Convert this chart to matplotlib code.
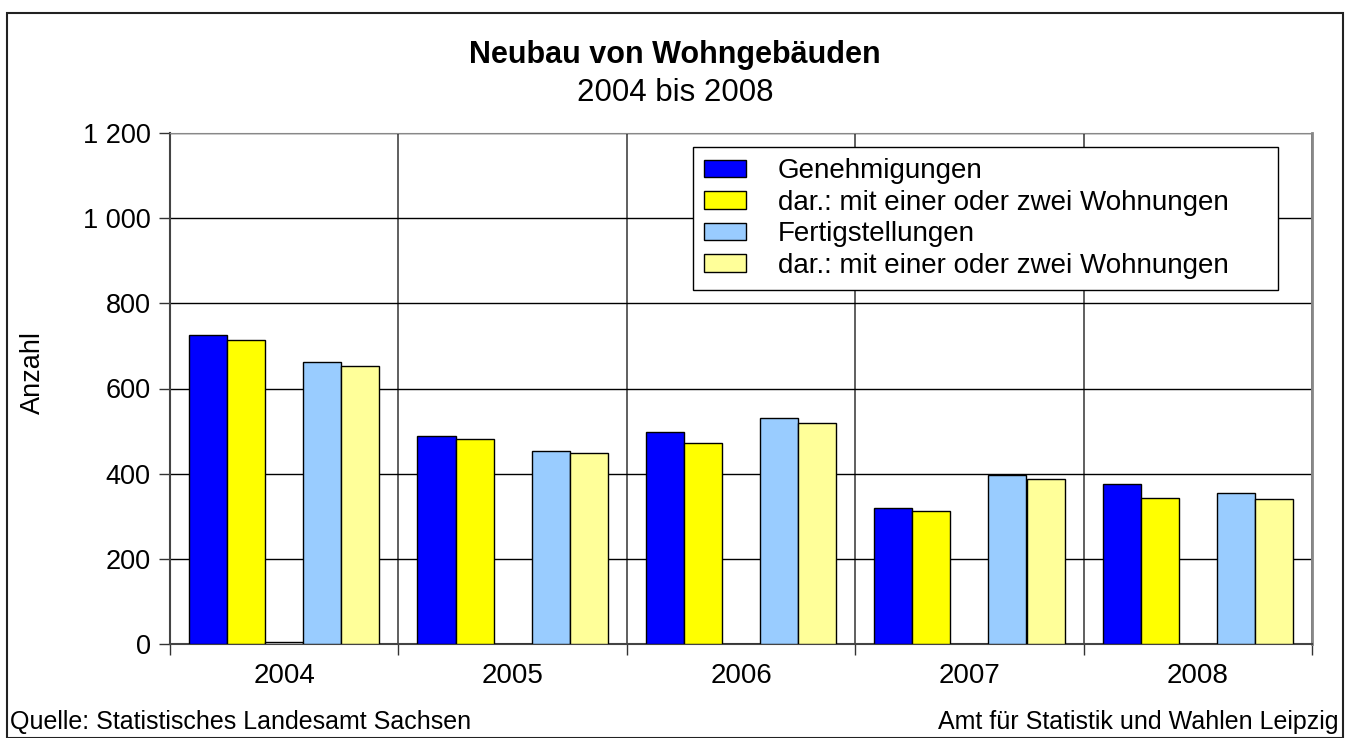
import numpy as np
import matplotlib
matplotlib.use("Agg")
import matplotlib.pyplot as plt
import matplotlib.patches as patches
from matplotlib.ticker import FuncFormatter, FixedLocator

plt.rcParams["font.family"] = ["Liberation Sans", "DejaVu Sans"]

years = ["2004", "2005", "2006", "2007", "2008"]
genehmigungen = [725, 488, 499, 320, 376]
gen_ein_zwei = [713, 482, 473, 312, 343]
leer = [4, 0, 0, 0, 0]  # unlabelled series between the two blocks
fertigstellungen = [663, 454, 531, 398, 355]
fert_ein_zwei = [652, 449, 520, 388, 341]

series = [
    (genehmigungen, "#0000FF", "Genehmigungen"),
    (gen_ein_zwei, "#FFFF00", "dar.: mit einer oder zwei Wohnungen"),
    (leer, "#FFFFFF", "_nolegend_"),
    (fertigstellungen, "#99CCFF", "Fertigstellungen"),
    (fert_ein_zwei, "#FFFF99", "dar.: mit einer oder zwei Wohnungen"),
]

W, H = 1350, 738
fig = plt.figure(figsize=(W / 100, H / 100), dpi=100)
ax = fig.add_axes([170 / W, 1 - 644 / H, (1312 - 170) / W, (644 - 133) / H])

x = np.arange(len(years))
bw = 1 / 6
for k, (vals, col, lab) in enumerate(series):
    ax.bar(x + (k - 2) * bw, vals, width=bw, color=col, edgecolor="black",
           linewidth=1.0, label=lab, zorder=3)

ax.set_xlim(-0.5, len(years) - 0.5)
ax.set_ylim(0, 1200)
ax.set_yticks(np.arange(0, 1201, 200))
ax.yaxis.set_major_formatter(FuncFormatter(lambda v, p: f"{int(v):,}".replace(",", " ")))
ax.set_xticks(x)
ax.set_xticklabels(years)
ax.xaxis.set_minor_locator(FixedLocator(np.arange(-0.5, len(years), 1.0)))
ax.tick_params(axis="x", which="major", length=0, labelsize=20, pad=14)
ax.tick_params(axis="x", which="minor", length=8, width=1, color="#333333")
ax.tick_params(axis="y", length=8, width=1, color="#333333", labelsize=19.5, pad=6)

ax.grid(axis="y", color="black", linewidth=1.0, zorder=0)
ax.grid(axis="x", which="minor", color="#444444", linewidth=1.2, zorder=0)
ax.set_axisbelow(True)

ax.spines["top"].set_color("#888888")
ax.spines["right"].set_color("#888888")
ax.spines["right"].set_linewidth(2)
ax.spines["left"].set_color("#444444")
ax.spines["left"].set_linewidth(1.5)
ax.spines["bottom"].set_color("#444444")
ax.spines["bottom"].set_linewidth(1.5)

fig.text(33 / W, 1 - 372 / H, "Anzahl", rotation=90, ha="center", va="center",
         fontsize=19.5)

leg = ax.legend(loc="upper left", bbox_to_anchor=(0.458, 0.6986, 0.512, 0.274),
                mode="expand", fontsize=20,
                frameon=True, fancybox=False, framealpha=1, edgecolor="black",
                borderaxespad=0, borderpad=0.4, handlelength=1.5,
                handleheight=0.6, handletextpad=1.15, labelspacing=0.2)
leg.get_frame().set_linewidth(1.0)

fig.text(675 / W, 1 - 55 / H, "Neubau von Wohngebäuden", ha="center", va="center",
         fontsize=22, fontweight="bold")
fig.text(675 / W, 1 - 93 / H, "2004 bis 2008", ha="center", va="center", fontsize=22.5)
fig.text(10 / W, 1 - 722 / H, "Quelle: Statistisches Landesamt Sachsen", ha="left",
         va="center", fontsize=18)
fig.text(1338 / W, 1 - 722 / H, "Amt für Statistik und Wahlen Leipzig", ha="right",
         va="center", fontsize=18)

border = patches.Rectangle((7 / W, 0), (1343 - 7) / W, 1 - 13 / H, transform=fig.transFigure,
                           fill=False, edgecolor="#222222", linewidth=1.5)
fig.add_artist(border)

fig.savefig("out.png", dpi=100)
